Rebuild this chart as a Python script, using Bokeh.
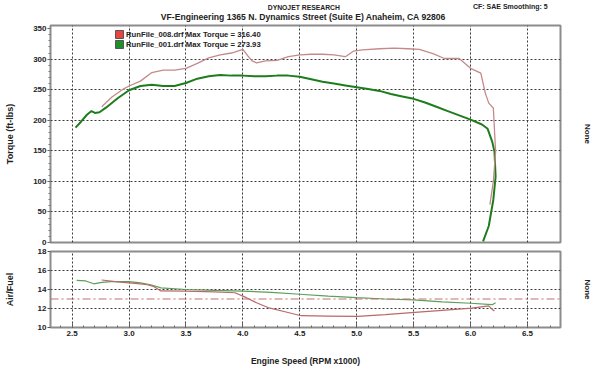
from bokeh.plotting import figure
from bokeh.layouts import column
from bokeh.models import (Range1d, FixedTicker, Grid, LinearAxis, Legend,
                          LegendItem, Span, PrintfTickFormatter)
from bokeh.core.properties import value
from bokeh.embed import file_html
from bokeh.resources import INLINE

FONT = "Liberation Sans"
NAN = float("nan")

# ---------------- texts ----------------
header_top = "DYNOJET RESEARCH"
header_right = "CF: SAE  Smoothing: 5"
header_main = "VF-Engineering 1365 N. Dynamics Street (Suite E) Anaheim, CA 92806"
run_names = ["RunFile_008.drf", "RunFile_001.drf"]
max_torque = [316.40, 273.93]
x_label = "Engine Speed (RPM x1000)"
y_label_top = "Torque (ft-lbs)"
y_label_bottom = "Air/Fuel"
right_label = "None"

# ---------------- ticks ----------------
x_ticks = [2.5, 3.0, 3.5, 4.0, 4.5, 5.0, 5.5, 6.0, 6.5]
x_minor = [round(2.3 + 0.1 * i, 1) for i in range(46)]
tq_ticks = [0, 50, 100, 150, 200, 250, 300, 350]
tq_grid = [50, 100, 150, 200, 250, 300]
tq_minor = [10 * i for i in range(36)]
afr_ticks = [10, 12, 14, 16, 18]
afr_grid = [12, 14, 16]
afr_target = 13.0

# ---------------- torque data ----------------
rpm_g = [2.53, 2.58, 2.63, 2.67, 2.70, 2.74, 2.80, 2.90, 3.00, 3.10, 3.20, 3.30,
         3.40, 3.50, 3.60, 3.70, 3.80, 3.90, 4.00, 4.10, 4.20, 4.30, 4.40, 4.50,
         4.60, 4.70, 4.80, 4.90, 5.00, 5.10, 5.20, 5.30, 5.40, 5.50, 5.60, 5.70,
         5.80, 5.90, 6.00, 6.10, 6.15, 6.19, 6.21, 6.22, 6.20, 6.16, 6.11]
tq_g = [188, 198, 209, 215, 212, 213, 221, 236, 249, 256, 258, 256,
        256, 261, 268, 272, 274, 273, 273, 272, 272, 273, 273, 271,
        267, 263, 260, 257, 254, 251, 248, 243, 239, 235, 229, 222,
        215, 208, 201, 193, 186, 165, 149, 108, 70, 27, 2]

rpm_r = [2.76, 2.85, 2.95, 3.00, 3.10, 3.20, 3.30, 3.40, 3.50, 3.60, 3.70, 3.80,
         3.90, 4.00, 4.04, 4.08, 4.12, 4.20, 4.30, 4.40, 4.50, 4.60, 4.70, 4.80,
         4.90, 4.97, 5.05, 5.20, 5.33, 5.45, 5.55, 5.67, 5.77, 5.90, 6.00, 6.09,
         6.13, 6.16, 6.20, 6.22, 6.20, 6.17]
tq_r = [222, 238, 251, 256, 264, 278, 282, 282, 285, 293, 302, 307,
        310, 316, 306, 297, 294, 297, 298, 304, 307, 308, 308, 307,
        304, 313, 315, 317, 318, 317, 316, 309, 301, 301, 285, 277,
        244, 228, 220, 149, 100, 62]

# ---------------- air/fuel data ----------------
rpm_ga = [2.54, 2.62, 2.69, 2.76, 2.84, 3.00, 3.10, 3.19, 3.28, 3.50, 3.75, 4.00,
          4.25, 4.50, 4.75, 5.00, 5.25, 5.50, 5.75, 6.00, 6.19, 6.22]
afr_g = [14.97, 14.9, 14.6, 14.75, 14.83, 14.83, 14.7, 14.5, 14.17, 14.0, 13.9, 13.83,
         13.7, 13.5, 13.3, 13.14, 13.0, 12.9, 12.7, 12.55, 12.4, 12.6]

rpm_ra = [2.76, 2.90, 3.00, 3.10, 3.16, 3.22, 3.28, 3.50, 3.75, 3.93, 4.03, 4.12,
          4.22, 4.37, 4.51, 4.75, 5.01, 5.25, 5.51, 5.75, 6.01, 6.16, 6.19, 6.21]
afr_r = [15.0, 14.8, 14.7, 14.6, 14.5, 14.3, 13.85, 13.83, 13.75, 13.66, 13.14, 12.6,
         12.1, 11.66, 11.24, 11.2, 11.17, 11.35, 11.59, 11.8, 12.03, 12.27, 11.9, 11.75]

TXT = "#222222"
GRID = "#3a3a3a"
OUTLINE = "#8c8c8c"

x_range = Range1d(2.31, 6.79)


def style_common(p):
    p.background_fill_color = "white"
    p.border_fill_color = "white"
    p.outline_line_color = OUTLINE
    p.outline_line_width = 2


def style_left_axis(ax, standoff):
    ax.axis_line_color = None
    ax.major_tick_in = 0
    ax.major_tick_out = 3
    ax.minor_tick_in = 0
    ax.minor_tick_out = 2
    ax.major_tick_line_color = "#555555"
    ax.minor_tick_line_color = "#777777"
    ax.major_label_standoff = 1
    ax.major_label_text_font = FONT
    ax.major_label_text_font_size = "8px"
    ax.major_label_text_font_style = "bold"
    ax.major_label_text_color = TXT
    ax.axis_label_text_font = FONT
    ax.axis_label_text_font_size = "9px"
    ax.axis_label_text_font_style = "bold"
    ax.axis_label_text_color = TXT
    ax.axis_label_standoff = standoff


def add_right_label(p):
    ax = LinearAxis(ticker=FixedTicker(ticks=[]), axis_label=right_label)
    ax.axis_line_color = None
    ax.major_tick_line_color = None
    ax.minor_tick_line_color = None
    ax.axis_label_text_font = FONT
    ax.axis_label_text_font_size = "8px"
    ax.axis_label_text_font_style = "bold"
    ax.axis_label_text_color = TXT
    ax.axis_label_standoff = 22
    p.add_layout(ax, "right")


def add_vgrid(p):
    g = Grid(dimension=0, ticker=FixedTicker(ticks=x_ticks))
    g.grid_line_color = GRID
    g.grid_line_dash = "2 2"
    g.grid_line_width = 1
    p.add_layout(g)


# ---------------- header strip (page-pixel coordinates) ----------------
HH = 24
p0 = figure(width=600, height=HH, x_range=Range1d(0, 600), y_range=Range1d(HH, 0),
            x_axis_location=None, y_axis_location=None, output_backend="svg",
            toolbar_location=None, min_border=0)
p0.outline_line_color = None
p0.grid.visible = False
p0.text(x=[298], y=[6.5], text=[header_top], text_align="center",
        text_baseline="middle", text_font=value(FONT), text_font_size="6.8px",
        text_font_style="bold", text_color=TXT)
p0.text(x=[297.5], y=[16.5], text=[header_main], text_align="center",
        text_baseline="middle", text_font=value(FONT), text_font_size="8.6px",
        text_font_style="bold", text_color=TXT)
p0.text(x=[497], y=[6], text=[header_right], text_align="left",
        text_baseline="middle", text_font=value(FONT), text_font_size="7px",
        text_font_style="bold", text_color=TXT)

# ---------------- top (torque) ----------------
p1 = figure(width=600, height=223, x_range=x_range, y_range=Range1d(0, 355),
            x_axis_location=None, output_backend="svg", toolbar_location=None,
            min_border_left=50, min_border_right=40, min_border_top=1,
            min_border_bottom=5)
style_common(p1)
p1.yaxis.ticker = FixedTicker(ticks=tq_ticks, minor_ticks=tq_minor)
p1.yaxis.axis_label = y_label_top
style_left_axis(p1.yaxis[0], 15)
p1.ygrid.ticker = FixedTicker(ticks=tq_grid)
p1.ygrid.grid_line_color = GRID
p1.ygrid.grid_line_dash = "2 2"
add_vgrid(p1)
add_right_label(p1)

p1.line(rpm_g, tq_g, line_color="#1d7d1d", line_width=2)
p1.line(rpm_r, tq_r, line_color="#c48a8a", line_width=1.3)

leg_r = p1.quad(left=[NAN], right=[NAN], top=[NAN], bottom=[NAN], fill_color="#e8453f",
                line_color="#555555")
leg_g = p1.quad(left=[NAN], right=[NAN], top=[NAN], bottom=[NAN], fill_color="#1f8f2a",
                line_color="#555555")
legend = Legend(items=[
    LegendItem(label=f"{run_names[0]} Max Torque = {max_torque[0]:.2f}", renderers=[leg_r]),
    LegendItem(label=f"{run_names[1]} Max Torque = {max_torque[1]:.2f}", renderers=[leg_g]),
], location=(64, 193))
legend.background_fill_alpha = 0
legend.border_line_color = None
legend.padding = 0
legend.spacing = 0
legend.glyph_width = 10
legend.glyph_height = 10
legend.label_height = 9
legend.label_standoff = 2
legend.label_text_font = FONT
legend.label_text_font_size = "7.7px"
legend.label_text_font_style = "bold"
legend.label_text_color = TXT
legend.label_text_baseline = "middle"
p1.add_layout(legend)

# ---------------- bottom (air/fuel) ----------------
p2 = figure(width=600, height=123, x_range=x_range, y_range=Range1d(10, 18),
            output_backend="svg", toolbar_location=None,
            min_border_left=50, min_border_right=40, min_border_top=4,
            min_border_bottom=43)
style_common(p2)
p2.yaxis.ticker = FixedTicker(ticks=afr_ticks)
p2.yaxis.axis_label = y_label_bottom
style_left_axis(p2.yaxis[0], 20)
p2.ygrid.ticker = FixedTicker(ticks=afr_grid)
p2.ygrid.grid_line_color = GRID
p2.ygrid.grid_line_dash = "2 2"
p2.xgrid.visible = False
add_vgrid(p2)
add_right_label(p2)

xa = p2.xaxis[0]
xa.ticker = FixedTicker(ticks=x_ticks, minor_ticks=x_minor)
xa.formatter = PrintfTickFormatter(format="%.1f")
xa.axis_label = x_label
xa.axis_line_color = None
xa.major_tick_in = 4
xa.major_tick_out = 0
xa.minor_tick_in = 2
xa.minor_tick_out = 0
xa.major_tick_line_color = "#555555"
xa.minor_tick_line_color = "#666666"
xa.major_label_standoff = 3
xa.major_label_text_font = FONT
xa.major_label_text_font_size = "8px"
xa.major_label_text_font_style = "bold"
xa.major_label_text_color = TXT
xa.axis_label_text_font = FONT
xa.axis_label_text_font_size = "8.5px"
xa.axis_label_text_font_style = "bold"
xa.axis_label_text_color = TXT
xa.axis_label_standoff = 17

p2.add_layout(Span(location=afr_target, dimension="width", line_color="#c86e6e",
                   line_dash="8 3 2 3", line_width=1))
p2.line(rpm_ga, afr_g, line_color="#5c9e5c", line_width=1.2)
p2.line(rpm_ra, afr_r, line_color="#b86a6a", line_width=1.2)

layout = column(p0, p1, p2, spacing=0)
open("out.html", "w").write(file_html(layout, INLINE))
